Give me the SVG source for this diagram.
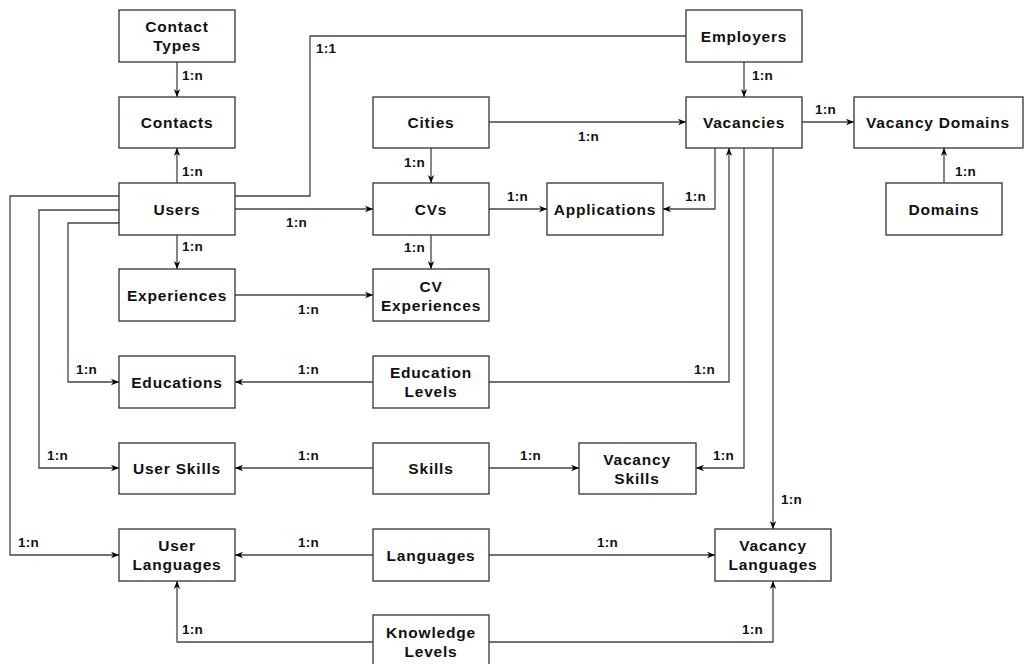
<svg xmlns="http://www.w3.org/2000/svg" width="1024" height="664" viewBox="0 0 1024 664">
<defs>
<marker id="ah" viewBox="0 0 10 10" refX="10" refY="5" markerWidth="8" markerHeight="8" markerUnits="userSpaceOnUse" orient="auto">
<path d="M0,1 L10,5 L0,9 L3,5 Z" fill="#000"/>
</marker>
<style>
.box{fill:#fff;stroke:#333;stroke-width:1.3}
.t{font-family:"Liberation Sans",Arial,sans-serif;font-weight:bold;font-size:15.5px;letter-spacing:0.8px;fill:#111;text-anchor:middle;dominant-baseline:central}
.l{font-family:"Liberation Sans",Arial,sans-serif;font-weight:bold;font-size:13.5px;letter-spacing:0.3px;fill:#111}
.c{fill:none;stroke:#444;stroke-width:1.3}
.a{marker-end:url(#ah)}
</style>
</defs>
<rect width="1024" height="664" fill="#fff"/>
<g id="connectors">
<path class="c a" d="M177,62 V97"/>
<path class="c a" d="M177,183 V148"/>
<path class="c" d="M235,196 H310 V36 H686"/>
<path class="c a" d="M235,209 H373"/>
<path class="c a" d="M119,196 H10 V555 H119"/>
<path class="c a" d="M119,210 H39 V468 H119"/>
<path class="c a" d="M119,223 H68 V382 H119"/>
<path class="c a" d="M177,235 V269"/>
<path class="c a" d="M235,295 H373"/>
<path class="c a" d="M431,148 V183"/>
<path class="c a" d="M489,122 H686"/>
<path class="c a" d="M489,209 H547"/>
<path class="c a" d="M715,148 V209 H663"/>
<path class="c a" d="M431,235 V269"/>
<path class="c a" d="M744,62 V97"/>
<path class="c a" d="M802,122 H854"/>
<path class="c a" d="M944,183 V148"/>
<path class="c a" d="M373,382 H235"/>
<path class="c a" d="M489,382 H729 V148"/>
<path class="c a" d="M744,148 V468 H696"/>
<path class="c a" d="M773,148 V529"/>
<path class="c a" d="M373,468 H235"/>
<path class="c a" d="M489,468 H579"/>
<path class="c a" d="M373,555 H235"/>
<path class="c a" d="M489,555 H715"/>
<path class="c a" d="M373,642 H177 V581"/>
<path class="c a" d="M489,642 H773 V581"/>
<text class="l" x="182" y="80">1:n</text>
<text class="l" x="182" y="176">1:n</text>
<text class="l" x="316" y="53">1:1</text>
<text class="l" x="286" y="227">1:n</text>
<text class="l" x="18" y="547">1:n</text>
<text class="l" x="47" y="460">1:n</text>
<text class="l" x="76" y="374">1:n</text>
<text class="l" x="182" y="251">1:n</text>
<text class="l" x="298" y="314">1:n</text>
<text class="l" x="404" y="167">1:n</text>
<text class="l" x="578" y="141">1:n</text>
<text class="l" x="507" y="201">1:n</text>
<text class="l" x="685" y="201">1:n</text>
<text class="l" x="404" y="252">1:n</text>
<text class="l" x="752" y="80">1:n</text>
<text class="l" x="815" y="114">1:n</text>
<text class="l" x="955" y="176">1:n</text>
<text class="l" x="298" y="374">1:n</text>
<text class="l" x="694" y="374">1:n</text>
<text class="l" x="713" y="460">1:n</text>
<text class="l" x="781" y="504">1:n</text>
<text class="l" x="298" y="460">1:n</text>
<text class="l" x="520" y="460">1:n</text>
<text class="l" x="298" y="547">1:n</text>
<text class="l" x="597" y="547">1:n</text>
<text class="l" x="182" y="634">1:n</text>
<text class="l" x="742" y="634">1:n</text>
</g>
<g id="contact-types"><rect class="box" x="119" y="10" width="116" height="52"/><text class="t" x="177" y="26">Contact</text><text class="t" x="177" y="45">Types</text></g>
<g id="contacts"><rect class="box" x="119" y="97" width="116" height="51"/><text class="t" x="177" y="122">Contacts</text></g>
<g id="users"><rect class="box" x="119" y="183" width="116" height="52"/><text class="t" x="177" y="209">Users</text></g>
<g id="experiences"><rect class="box" x="119" y="269" width="116" height="52"/><text class="t" x="177" y="295">Experiences</text></g>
<g id="educations"><rect class="box" x="119" y="356" width="116" height="52"/><text class="t" x="177" y="382">Educations</text></g>
<g id="user-skills"><rect class="box" x="119" y="443" width="116" height="51"/><text class="t" x="177" y="468">User Skills</text></g>
<g id="user-languages"><rect class="box" x="119" y="529" width="116" height="52"/><text class="t" x="177" y="545">User</text><text class="t" x="177" y="564">Languages</text></g>
<g id="cities"><rect class="box" x="373" y="97" width="116" height="51"/><text class="t" x="431" y="122">Cities</text></g>
<g id="cvs"><rect class="box" x="373" y="183" width="116" height="52"/><text class="t" x="431" y="209">CVs</text></g>
<g id="applications"><rect class="box" x="547" y="183" width="116" height="52"/><text class="t" x="605" y="209">Applications</text></g>
<g id="cv-experiences"><rect class="box" x="373" y="269" width="116" height="52"/><text class="t" x="431" y="286">CV</text><text class="t" x="431" y="305">Experiences</text></g>
<g id="education-levels"><rect class="box" x="373" y="356" width="116" height="52"/><text class="t" x="431" y="372">Education</text><text class="t" x="431" y="391">Levels</text></g>
<g id="skills"><rect class="box" x="373" y="443" width="116" height="51"/><text class="t" x="431" y="468">Skills</text></g>
<g id="languages"><rect class="box" x="373" y="529" width="116" height="52"/><text class="t" x="431" y="555">Languages</text></g>
<g id="knowledge-levels"><rect class="box" x="373" y="615" width="116" height="52"/><text class="t" x="431" y="632">Knowledge</text><text class="t" x="431" y="651">Levels</text></g>
<g id="employers"><rect class="box" x="686" y="10" width="116" height="52"/><text class="t" x="744" y="36">Employers</text></g>
<g id="vacancies"><rect class="box" x="686" y="97" width="116" height="51"/><text class="t" x="744" y="122">Vacancies</text></g>
<g id="vacancy-domains"><rect class="box" x="854" y="97" width="169" height="51"/><text class="t" x="938" y="122">Vacancy Domains</text></g>
<g id="domains"><rect class="box" x="886" y="183" width="116" height="52"/><text class="t" x="944" y="209">Domains</text></g>
<g id="vacancy-skills"><rect class="box" x="579" y="443" width="117" height="51"/><text class="t" x="637" y="459">Vacancy</text><text class="t" x="637" y="478">Skills</text></g>
<g id="vacancy-languages"><rect class="box" x="715" y="529" width="116" height="52"/><text class="t" x="773" y="545">Vacancy</text><text class="t" x="773" y="564">Languages</text></g>
</svg>
